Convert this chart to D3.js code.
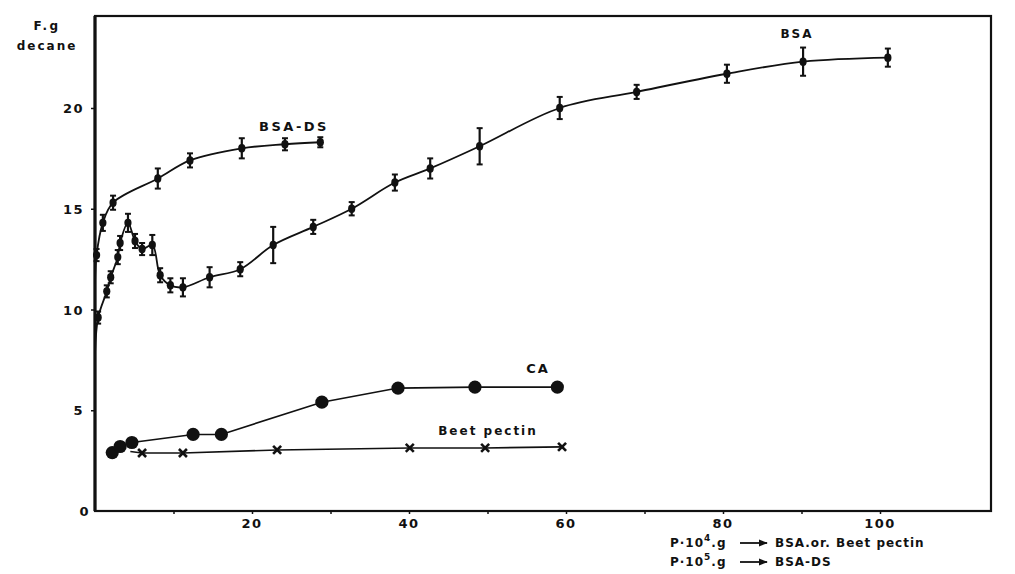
<!DOCTYPE html>
<html>
<head>
<meta charset="utf-8">
<script src="https://cdn.jsdelivr.net/npm/d3@7"></script>
<style>
  body { margin: 0; background: #fff; }
  text { font-family: "DejaVu Sans", sans-serif; font-weight: bold; fill: #111; }
</style>
</head>
<body>
<svg id="chart" width="1015" height="574"></svg>
<script>
// BSA (lower curve with the hump), x = P*10^4 g
const bsaX   = [0.4, 1.5, 2.0, 2.9, 3.2, 4.2, 5.1, 6.0, 7.3, 8.3, 9.6, 11.2, 14.6, 18.5, 22.7, 27.8, 32.7, 38.2, 42.7, 49.0, 59.2, 69.0, 80.5, 90.2, 101];
const bsaY   = [9.6, 10.9, 11.6, 12.6, 13.3, 14.3, 13.4, 13.0, 13.2, 11.7, 11.2, 11.1, 11.6, 12.0, 13.2, 14.1, 15.0, 16.3, 17.0, 18.1, 20.0, 20.8, 21.7, 22.3, 22.5];
const bsaErr = [0.3, 0.3, 0.3, 0.35, 0.35, 0.45, 0.35, 0.3, 0.5, 0.35, 0.35, 0.45, 0.5, 0.35, 0.9, 0.35, 0.33, 0.4, 0.5, 0.9, 0.55, 0.35, 0.45, 0.7, 0.45];
const bsaStart = [0, 7.8];

// BSA-DS, x = P*10^5 g
const dsX   = [0.2, 1.0, 2.3, 8.0, 12.1, 18.7, 24.2, 28.7];
const dsY   = [12.7, 14.3, 15.3, 16.5, 17.4, 18.0, 18.2, 18.3];
const dsErr = [0.3, 0.4, 0.35, 0.5, 0.35, 0.5, 0.3, 0.25];
const dsStart = [0, 11.3];

// CA (filled circles)
const caX = [2.2, 3.2, 4.7, 12.5, 16.1, 28.9, 38.6, 48.4, 58.9];
const caY = [2.9, 3.2, 3.4, 3.8, 3.8, 5.4, 6.1, 6.15, 6.15];

// Beet pectin (crosses)
const beetX = [6.0, 11.2, 23.2, 40.1, 49.7, 59.5];
const beetY = [2.88, 2.88, 3.03, 3.13, 3.13, 3.18];
const beetStart = [4.5, 2.95];

const xTicks = [20, 40, 60, 80, 100];
const yTicks = [0, 5, 10, 15, 20];

const svg = d3.select("#chart");

const x = d3.scaleLinear().domain([0, 100]).range([95, 880]);
const y = d3.scaleLinear().domain([0, 20]).range([511, 108]);

// frame
svg.append("rect")
  .attr("x", x(0)).attr("y", 16)
  .attr("width", 991 - x(0)).attr("height", y(0) - 16)
  .attr("fill", "none").attr("stroke", "#111").attr("stroke-width", 2.2);
svg.append("line")
  .attr("x1", x(0)).attr("x2", x(0)).attr("y1", 16).attr("y2", y(0))
  .attr("stroke", "#111").attr("stroke-width", 3.2);

// axes
const xAxis = svg.append("g")
  .attr("transform", `translate(0,${y(0)})`)
  .call(d3.axisBottom(x).tickValues(d3.range(10, 101, 10)).tickSize(3).tickFormat(""));
xAxis.select(".domain").remove();
xAxis.selectAll("line").attr("stroke", "#111").attr("stroke-width", 1.5);

svg.append("g").selectAll("text")
  .data(xTicks).enter().append("text")
  .attr("x", d => x(d)).attr("y", y(0) + 17)
  .attr("text-anchor", "middle")
  .attr("font-size", 13)
  .style("letter-spacing", "1.5px")
  .text(d => d);

const yAxis = svg.append("g")
  .attr("transform", `translate(${x(0)},0)`)
  .call(d3.axisLeft(y).tickValues(yTicks.slice(1)).tickSize(4).tickFormat(""));
yAxis.select(".domain").remove();
yAxis.selectAll("line").attr("stroke", "#111").attr("stroke-width", 1.5);

svg.append("g").selectAll("text")
  .data(yTicks).enter().append("text")
  .attr("x", d => d === 0 ? x(0) - 5 : x(0) - 11)
  .attr("y", d => y(d) + 5)
  .attr("text-anchor", "end")
  .attr("font-size", 13)
  .style("letter-spacing", "1.5px")
  .text(d => d);

// axis title
svg.append("text").attr("x", 47).attr("y", 30).attr("text-anchor", "middle")
  .attr("font-size", 12).style("letter-spacing", "2.5px").text("F.g");
svg.append("text").attr("x", 47).attr("y", 50).attr("text-anchor", "middle")
  .attr("font-size", 12).style("letter-spacing", "2px").text("decane");

// lines
const line = d3.line()
  .x(d => x(d[0])).y(d => y(d[1]))
  .curve(d3.curveCatmullRom.alpha(0.5));

const bsaPts = [bsaStart].concat(bsaX.map((v, i) => [v, bsaY[i]]));
const dsPts = [dsStart].concat(dsX.map((v, i) => [v, dsY[i]]));
const caPts = caX.map((v, i) => [v, caY[i]]);
const beetPts = [beetStart].concat(beetX.map((v, i) => [v, beetY[i]]));

svg.append("path").datum(bsaPts).attr("d", line)
  .attr("fill", "none").attr("stroke", "#111").attr("stroke-width", 1.8);
svg.append("path").datum(dsPts).attr("d", line)
  .attr("fill", "none").attr("stroke", "#111").attr("stroke-width", 1.8);
svg.append("path").datum(beetPts).attr("d", d3.line().x(d => x(d[0])).y(d => y(d[1])))
  .attr("fill", "none").attr("stroke", "#111").attr("stroke-width", 1.6);
svg.append("path").datum(caPts).attr("d", d3.line().x(d => x(d[0])).y(d => y(d[1])))
  .attr("fill", "none").attr("stroke", "#111").attr("stroke-width", 1.6);

// error bar markers
function errorMarks(xs, ys, es) {
  const g = svg.append("g");
  const data = xs.map((v, i) => ({ x: v, y: ys[i], e: es[i] }));
  const pt = g.selectAll("g").data(data).enter().append("g");
  pt.append("line")
    .attr("x1", d => x(d.x)).attr("x2", d => x(d.x))
    .attr("y1", d => y(d.y + d.e)).attr("y2", d => y(d.y - d.e))
    .attr("stroke", "#111").attr("stroke-width", 2.2);
  pt.append("line")
    .attr("x1", d => x(d.x) - 3).attr("x2", d => x(d.x) + 3)
    .attr("y1", d => y(d.y + d.e)).attr("y2", d => y(d.y + d.e))
    .attr("stroke", "#111").attr("stroke-width", 2);
  pt.append("line")
    .attr("x1", d => x(d.x) - 3).attr("x2", d => x(d.x) + 3)
    .attr("y1", d => y(d.y - d.e)).attr("y2", d => y(d.y - d.e))
    .attr("stroke", "#111").attr("stroke-width", 2);
  pt.append("ellipse")
    .attr("cx", d => x(d.x)).attr("cy", d => y(d.y))
    .attr("rx", 3.6).attr("ry", 4.2).attr("fill", "#111");
}
errorMarks(bsaX, bsaY, bsaErr);
errorMarks(dsX, dsY, dsErr);

// beet pectin crosses
svg.append("g").selectAll("path")
  .data(beetX.map((v, i) => [v, beetY[i]])).enter().append("path")
  .attr("d", d3.symbol().type(d3.symbolCross).size(0))
  .attr("transform", d => `translate(${x(d[0])},${y(d[1])})`);
svg.append("g").selectAll("g")
  .data(beetX.map((v, i) => [v, beetY[i]])).enter().append("g")
  .attr("transform", d => `translate(${x(d[0])},${y(d[1])})`)
  .each(function () {
    const g = d3.select(this);
    g.append("line").attr("x1", -4).attr("y1", -4).attr("x2", 4).attr("y2", 4);
    g.append("line").attr("x1", -4).attr("y1", 4).attr("x2", 4).attr("y2", -4);
    g.selectAll("line").attr("stroke", "#111").attr("stroke-width", 2.6);
  });

// CA circles
svg.append("g").selectAll("circle")
  .data(caPts).enter().append("circle")
  .attr("cx", d => x(d[0])).attr("cy", d => y(d[1]))
  .attr("r", 6.6).attr("fill", "#111");

// series labels
svg.append("text").attr("x", 797).attr("y", 38).attr("text-anchor", "middle")
  .attr("font-size", 12).style("letter-spacing", "2px").text("BSA");
svg.append("text").attr("x", 294).attr("y", 131).attr("text-anchor", "middle")
  .attr("font-size", 13).style("letter-spacing", "2.5px").text("BSA-DS");
svg.append("text").attr("x", 538).attr("y", 373).attr("text-anchor", "middle")
  .attr("font-size", 13).style("letter-spacing", "2px").text("CA");
svg.append("text").attr("x", 488).attr("y", 435).attr("text-anchor", "middle")
  .attr("font-size", 12).style("letter-spacing", "2px").text("Beet pectin");

// unit legend under x axis
svg.append("defs").append("marker")
  .attr("id", "arr").attr("viewBox", "0 0 10 10")
  .attr("refX", 9).attr("refY", 5)
  .attr("markerWidth", 5).attr("markerHeight", 5)
  .attr("orient", "auto")
  .append("path").attr("d", "M0,1 L10,5 L0,9 Z").attr("fill", "#111");

const legendRows = [
  { exp: "4", label: "BSA.or. Beet pectin", y: 547 },
  { exp: "5", label: "BSA-DS", y: 566 }
];
legendRows.forEach(r => {
  const t = svg.append("text").attr("x", 670).attr("y", r.y)
    .attr("font-size", 12).style("letter-spacing", "1px");
  t.append("tspan").text("P·10");
  t.append("tspan").attr("dy", -6).attr("font-size", 9).text(r.exp);
  t.append("tspan").attr("dy", 6).text(".g");
  svg.append("line").attr("x1", 740).attr("x2", 767)
    .attr("y1", r.y - 4).attr("y2", r.y - 4)
    .attr("stroke", "#111").attr("stroke-width", 1.8)
    .attr("marker-end", "url(#arr)");
  svg.append("text").attr("x", 775).attr("y", r.y)
    .attr("font-size", 12).style("letter-spacing", "1px").text(r.label);
});
</script>
</body>
</html>
